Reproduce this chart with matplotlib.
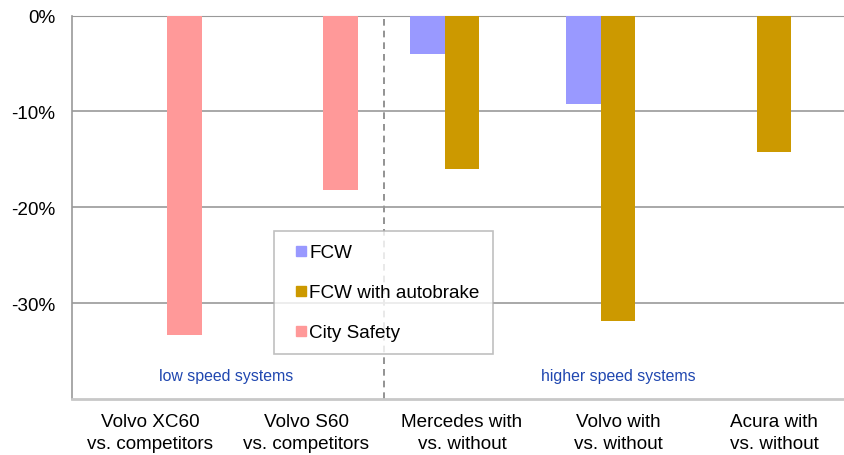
import numpy as np
import matplotlib.pyplot as plt
from matplotlib.lines import Line2D

plt.rcParams['font.family'] = ['Liberation Sans', 'DejaVu Sans']

categories = ['Volvo XC60\nvs. competitors', 'Volvo S60\nvs. competitors',
              'Mercedes with\nvs. without', 'Volvo with\nvs. without',
              'Acura with\nvs. without']
fcw = [np.nan, np.nan, -4.0, -9.2, np.nan]
fcw_autobrake = [np.nan, np.nan, -16.0, -31.9, -14.2]
city_safety = [-33.3, -18.2, np.nan, np.nan, np.nan]
yticks = [0, -10, -20, -30]
ytick_labels = ['0%', '-10%', '-20%', '-30%']

series = [('FCW', fcw, '#9999ff'),
          ('FCW with autobrake', fcw_autobrake, '#cc9900'),
          ('City Safety', city_safety, '#ff9999')]

fig = plt.figure(figsize=(8.45, 4.56), dpi=100)
ax = fig.add_axes([0.0852, 0.1228, 0.9148, 0.841])

x = np.arange(len(categories))
w = 0.224
for i, (name, vals, col) in enumerate(series):
    ax.bar(x + (i - 1) * w, vals, width=w, color=col, zorder=3)

ax.set_xlim(-0.5, 4.455)
ax.set_ylim(-40, 0)
ax.set_yticks(yticks)
ax.set_yticklabels(ytick_labels, fontsize=13.6)
ax.set_xticks(x)
ax.set_xticklabels(categories, fontsize=13.6, linespacing=1.36)
ax.tick_params(length=0)
ax.tick_params(axis='y', pad=12)
ax.tick_params(axis='x', pad=10)
ax.yaxis.grid(True, color='#999999', linewidth=1.2, zorder=0)

ax.spines['right'].set_visible(False)
ax.spines['top'].set_color('#999999')
ax.spines['left'].set_color('#999999')
ax.spines['left'].set_linewidth(1.2)
ax.spines['bottom'].set_color('#c8c8c8')
ax.spines['bottom'].set_linewidth(2)

ax.axvline(1.5, color='#808080', linestyle=(0, (4, 3)), linewidth=1.2, zorder=1)

ax.text(0.49, -37.6, 'low speed systems', color='#2047b0', fontsize=11.4,
        ha='center', va='center')
ax.text(3.0, -37.6, 'higher speed systems', color='#2047b0', fontsize=11.4,
        ha='center', va='center')

handles = [Line2D([], [], marker='s', linestyle='none', markersize=7.5,
                  markerfacecolor=col, markeredgecolor=col)
           for _, _, col in series]
leg = ax.legend(handles, [s[0] for s in series], fontsize=13.6,
                loc='upper left', bbox_to_anchor=(0.261, 0.438),
                frameon=True, fancybox=False, borderpad=0.7,
                handlelength=1.5, handletextpad=-0.32, labelspacing=1.2,
                borderaxespad=0)
leg.get_frame().set_edgecolor('#b0b0b0')
leg.get_frame().set_linewidth(1.2)
leg.set_zorder(5)

fig.savefig('out.png', dpi=100)
